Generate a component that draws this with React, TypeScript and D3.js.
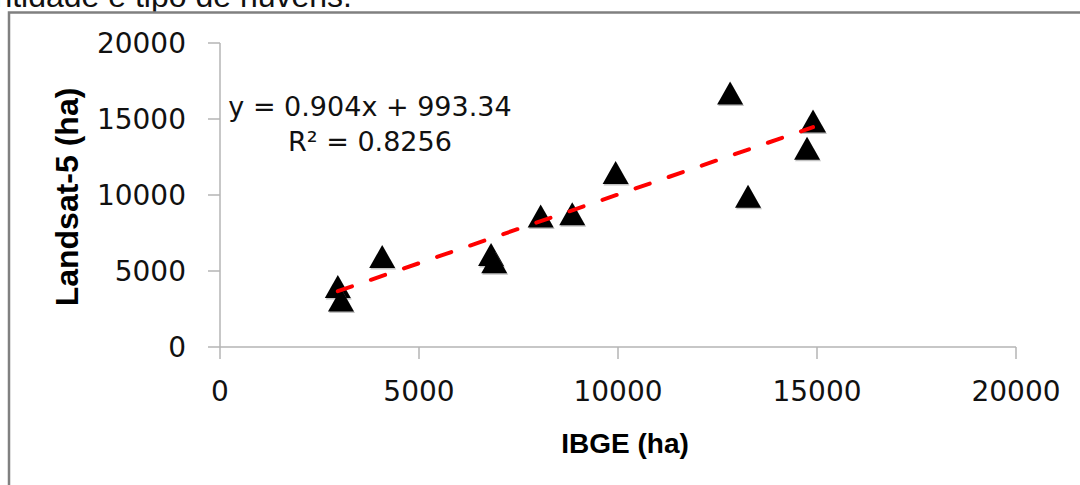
import React from "react";
import * as d3 from "d3";

// Data
const ibgeHa: number[] = [2960, 3040, 4075, 6810, 6890, 8057, 8850, 9940, 12817, 13267, 14750, 14900];
const landsatHa: number[] = [3980, 3092, 5954, 6086, 5605, 8618, 8770, 11480, 16711, 9914, 13072, 14868];
const xTicks: number[] = [0, 5000, 10000, 15000, 20000];
const yTicks: number[] = [0, 5000, 10000, 15000, 20000];
const trendSlope = 0.904;
const trendIntercept = 993.34;
const equationText = "y = 0.904x + 993.34";
const r2Text = "R² = 0.8256";
const xTitle = "IBGE (ha)";
const yTitle = "Landsat-5 (ha)";
const topText = "ntidade e tipo de nuvens.";

const W = 1080;
const H = 485;

export default function App() {
  const x = d3.scaleLinear().domain([0, 20000]).range([220, 1016]);
  const y = d3.scaleLinear().domain([0, 20000]).range([347, 43]);

  const xMin = d3.min(ibgeHa) as number;
  const xMax = d3.max(ibgeHa) as number;
  const trendData: [number, number][] = [xMin, xMax].map((v) => [v, trendSlope * v + trendIntercept]);
  const trendLine = d3
    .line<[number, number]>()
    .x((d) => x(d[0]))
    .y((d) => y(d[1]));

  const triW = 26;
  const triH = 23;
  const tri = (cx: number, cy: number) =>
    `M${cx},${cy - triH / 2}L${cx + triW / 2},${cy + triH / 2}L${cx - triW / 2},${cy + triH / 2}Z`;

  const axisColor = "#b4b4b4";
  const tickFont = "'DejaVu Sans', sans-serif";

  return (
    <svg
      width={W}
      height={H}
      style={{ position: "absolute", left: 0, top: 0, background: "#fff" }}
    >
      <rect x={0} y={0} width={W} height={H} fill="#ffffff" />
      {/* cut-off document text at top */}
      <text
        x={352}
        y={7}
        textAnchor="end"
        fontFamily="'Liberation Sans', Arial, sans-serif"
        fontSize={32}
        fill="#111"
      >
        {topText}
      </text>
      {/* outer chart border */}
      <rect x={9} y={12.5} width={W + 20} height={H + 20} fill="#ffffff" stroke="#808080" strokeWidth={2.5} />

      {/* y axis */}
      <line x1={x(0)} x2={x(0)} y1={y(20000)} y2={y(0)} stroke={axisColor} strokeWidth={1.5} />
      {yTicks.map((t) => (
        <g key={"yt" + t}>
          <line x1={x(0) - 12} x2={x(0)} y1={y(t)} y2={y(t)} stroke={axisColor} strokeWidth={1.5} />
          <text
            x={186}
            y={y(t)}
            dy="0.36em"
            textAnchor="end"
            fontFamily={tickFont}
            fontSize={28}
            fill="#111"
          >
            {t}
          </text>
        </g>
      ))}

      {/* x axis */}
      <line x1={x(0)} x2={x(20000)} y1={y(0)} y2={y(0)} stroke={axisColor} strokeWidth={1.5} />
      {xTicks.map((t) => (
        <g key={"xt" + t}>
          <line x1={x(t)} x2={x(t)} y1={y(0)} y2={y(0) + 12} stroke={axisColor} strokeWidth={1.5} />
          <text
            x={x(t)}
            y={401}
            textAnchor="middle"
            fontFamily={tickFont}
            fontSize={28}
            fill="#111"
          >
            {t}
          </text>
        </g>
      ))}

      {/* axis titles */}
      <text
        x={625}
        y={453}
        textAnchor="middle"
        fontFamily="'Liberation Sans', Arial, sans-serif"
        fontWeight="bold"
        fontSize={28}
        fill="#000"
      >
        {xTitle}
      </text>
      <text
        transform={`translate(78,197) rotate(-90)`}
        textAnchor="middle"
        fontFamily="'Liberation Sans', Arial, sans-serif"
        fontWeight="bold"
        fontSize={32}
        fill="#000"
      >
        {yTitle}
      </text>

      {/* markers */}
      {ibgeHa.map((v, i) => (
        <g key={"p" + i}>
          <path d={tri(x(v) + 1, y(landsatHa[i]) + 1.5)} fill="#9a9a9a" opacity={0.6} />
          <path d={tri(x(v), y(landsatHa[i]))} fill="#000" />
        </g>
      ))}

      {/* trendline */}
      <path
        d={trendLine(trendData) || ""}
        fill="none"
        stroke="#ff0000"
        strokeWidth={4}
        strokeDasharray="15 20"
        strokeLinecap="round"
      />

      {/* equation */}
      <text x={370} y={116} textAnchor="middle" fontFamily={tickFont} fontSize={27} fill="#111">
        {equationText}
      </text>
      <text x={370} y={151} textAnchor="middle" fontFamily={tickFont} fontSize={27} fill="#111">
        {r2Text}
      </text>
    </svg>
  );
}
